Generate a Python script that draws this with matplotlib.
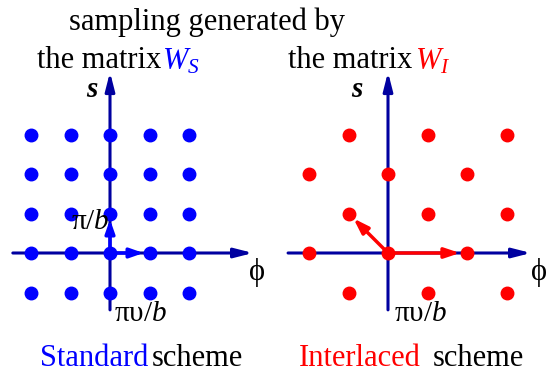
import matplotlib
matplotlib.use("Agg")
import matplotlib.pyplot as plt

plt.rcParams['font.family'] = ['Liberation Serif', 'DejaVu Serif']
plt.rcParams['mathtext.fontset'] = 'custom'
plt.rcParams['mathtext.rm'] = 'Liberation Serif'
plt.rcParams['mathtext.it'] = 'Liberation Serif:italic'

# lattice points (in units of the sampling step)
std_x = [-2, -1, 0, 1, 2] * 5
std_y = [3] * 5 + [2] * 5 + [1] * 5 + [0] * 5 + [-1] * 5

int_x = [-1, 1, 3, -2, 0, 2, -1, 1, 3, -2, 0, 2, -1, 1, 3]
int_y = [3, 3, 3, 2, 2, 2, 1, 1, 1, 0, 0, 0, -1, -1, -1]

# basis vectors
std_vecs = [(0.85, 0.0), (0.0, 0.85)]
int_vecs = [(2.0, 0.0), (-1.0, 1.0)]

NAVY = '#0000a0'
BLUE = '#0000ff'
RED = '#ff0000'

step = 39.5
W, H = 546, 379

fig = plt.figure(figsize=(W / 100, H / 100), dpi=100)

def make_axes(left_px, origin_px):
    ax = fig.add_axes([left_px / W, 0, 273 / W, 1])
    ox = origin_px - left_px
    ax.set_xlim(-ox / step, (273 - ox) / step)
    ax.set_ylim(-(H - 253) / step, 253 / step)
    ax.axis('off')
    return ax

def draw_axes(ax, x0, x1, y0, y1):
    style = '-|>,head_length=1.1,head_width=0.28'
    ax.annotate('', xy=(x1, 0), xytext=(x0, 0),
                arrowprops=dict(arrowstyle=style, color=NAVY, lw=2.2, shrinkA=0, shrinkB=0))
    ax.annotate('', xy=(0, y1), xytext=(0, y0),
                arrowprops=dict(arrowstyle=style, color=NAVY, lw=2.2, shrinkA=0, shrinkB=0))

# Standard scheme
ax1 = make_axes(0, 110)
draw_axes(ax1, -2.46, 3.62, -1.44, 4.58)
ax1.plot(std_x, std_y, 'o', color=BLUE, ms=9, zorder=3)
for vx, vy in std_vecs:
    ax1.annotate('', xy=(vx, vy), xytext=(0, 0),
                 arrowprops=dict(arrowstyle='-|>,head_length=0.8,head_width=0.28',
                                 color=BLUE, lw=2.5, shrinkA=0, shrinkB=0), zorder=4)
ax1.text(-0.02, 0.78, 'π/$b$', fontsize=21, ha='right', va='center')
ax1.text(0.1, -1.55, 'πυ/$b$', fontsize=21, ha='left', va='center')
ax1.text(3.52, -0.5, 'ϕ', fontsize=22, ha='left', va='center')
ax1.text(-0.45, 4.15, 's', fontsize=21, ha='center', va='center',
         style='italic', fontweight='bold')

# Interlaced scheme
ax2 = make_axes(273, 388)
draw_axes(ax2, -2.53, 3.62, -1.44, 4.58)
ax2.plot(int_x, int_y, 'o', color=RED, ms=9, zorder=3)
for vx, vy in int_vecs:
    ax2.annotate('', xy=(vx, vy), xytext=(0, 0),
                 arrowprops=dict(arrowstyle='-|>,head_length=0.9,head_width=0.3',
                                 color=RED, lw=2.5, shrinkA=0, shrinkB=5), zorder=4)
ax2.text(0.15, -1.55, 'πυ/$b$', fontsize=21, ha='left', va='center')
ax2.text(3.62, -0.5, 'ϕ', fontsize=22, ha='left', va='center')
ax2.text(-0.78, 4.15, 's', fontsize=21, ha='center', va='center',
         style='italic', fontweight='bold')

# titles and captions (pixel positions)
def px(x, y):
    return x / W, 1 - y / H

fig.text(*px(207, 22), 'sampling generated by', fontsize=22, ha='center', va='center')
fig.text(*px(37, 60), 'the matrix', fontsize=22, ha='left', va='center')
fig.text(*px(162, 62), '$W_S$', fontsize=22, ha='left', va='center', color=BLUE)
fig.text(*px(288, 60), 'the matrix', fontsize=22, ha='left', va='center')
fig.text(*px(415, 62), '$W_I$', fontsize=22, ha='left', va='center', color=RED)

fig.text(*px(148, 358), 'Standard', fontsize=22, ha='right', va='center', color=BLUE)
fig.text(*px(152, 358), 'scheme', fontsize=22, ha='left', va='center')
fig.text(*px(421, 358), 'Interlaced', fontsize=22, ha='right', va='center', color=RED)
fig.text(*px(433, 358), 'scheme', fontsize=22, ha='left', va='center')

fig.savefig('out.png', dpi=100)
